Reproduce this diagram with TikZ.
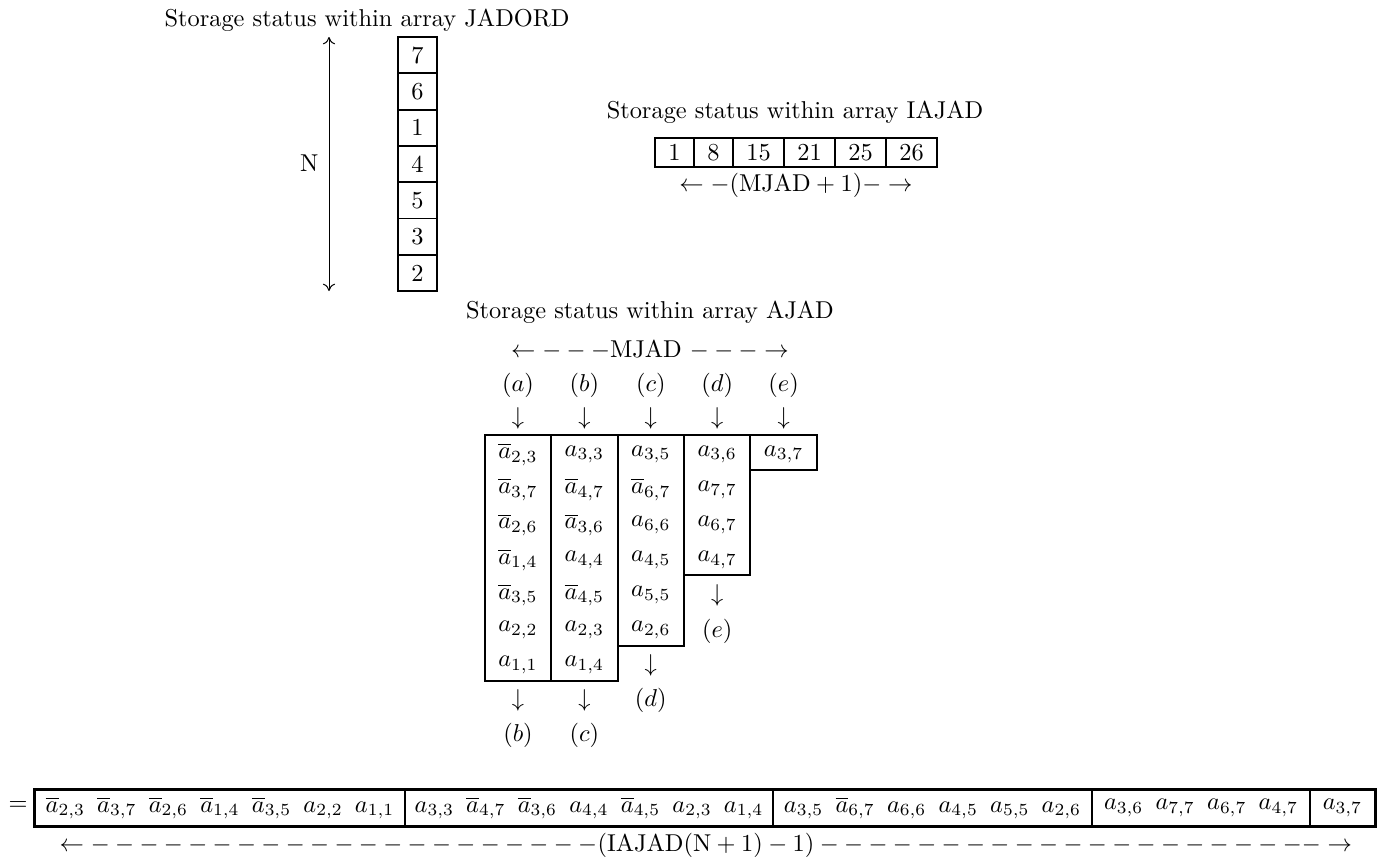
\documentclass[tikz,border=0pt]{standalone}
\usetikzlibrary{arrows.meta}
\begin{document}
\begin{tikzpicture}[x=0.41pt,y=-0.41pt,
  lbl/.style={inner sep=0pt, anchor=center},
  jbox/.style={draw, line width=0.8pt, minimum width=39*0.41pt, minimum height=36.3*0.41pt, inner sep=0pt},
  ibox/.style={draw, line width=0.8pt, minimum height=29*0.41pt, inner sep=0pt},
  colbox/.style={draw, line width=0.8pt, minimum width=66.4*0.41pt, inner sep=0pt},
  gbox/.style={draw, line width=0.55pt, minimum height=36*0.41pt, inner sep=0pt},
  dimarrow/.style={line width=0.4pt, {To[length=3pt,width=5pt]}-{To[length=3pt,width=5pt]}}
]
\useasboundingbox (0,0) rectangle (1388,857);

% ---------- JADORD ----------
\node[lbl] (tJ) at (367,20) {Storage status within array JADORD};
\foreach \v [count=\k] in {7,6,1,4,5,3,2}{
  \node[jbox] (j\k) at (417.5,{37+36.3*(\k-0.5)}) {\v};
}
\coordinate (Ntop) at (329,37);
\coordinate (Nbot) at (329,291);
\draw[dimarrow] (Ntop) -- (Nbot);
\node[lbl,anchor=east] (Nlab) at (319,163) {N};

% ---------- IAJAD ----------
\node[lbl] (tI) at (795,112) {Storage status within array IAJAD};
\node[ibox,minimum width=39*0.41pt] (i1) at (674.5,152.5) {1};
\node[ibox,minimum width=39*0.41pt] (i2) at (713.5,152.5) {8};
\node[ibox,minimum width=51*0.41pt] (i3) at (758.5,152.5) {15};
\node[ibox,minimum width=51*0.41pt] (i4) at (809.5,152.5) {21};
\node[ibox,minimum width=51*0.41pt] (i5) at (860.5,152.5) {25};
\node[ibox,minimum width=51*0.41pt] (i6) at (911.5,152.5) {26};
\node[lbl] (iL) at (796,185) {$\leftarrow-(\mathrm{MJAD}+1)-\rightarrow$};

% ---------- AJAD ----------
\node[lbl] (tA) at (650,312) {Storage status within array AJAD};
\node[lbl] (mA) at (650,350) {$\leftarrow---$MJAD $---\rightarrow$};

% columns
\node[colbox,minimum height=7*35.1*0.41pt] (ca) at (518.0,{435+7*35.1/2}) {};
\node[colbox,minimum height=7*35.1*0.41pt] (cb) at (584.4,{435+7*35.1/2}) {};
\node[colbox,minimum height=6*35.1*0.41pt] (cc) at (650.8,{435+6*35.1/2}) {};
\node[colbox,minimum height=4*35.1*0.41pt] (cd) at (717.2,{435+4*35.1/2}) {};
\node[colbox,minimum height=1*35.1*0.41pt] (ce) at (783.6,{435+1*35.1/2}) {};

% labels above
\foreach \x/\t/\n in {518.0/a/a,584.4/b/b,650.8/c/c,717.2/d/d,783.6/e/e}{
  \node[lbl] (top\n) at (\x,385) {$(\t)$};
  \node[lbl] (dn\n) at (\x,418) {$\downarrow$};
}

% cells
\foreach \e [count=\k] in {\overline{a}_{2,3},\overline{a}_{3,7},\overline{a}_{2,6},\overline{a}_{1,4},\overline{a}_{3,5},a_{2,2},a_{1,1}}{
  \node[lbl] (a\k) at (518.0,{435+35.1*(\k-0.5)+2}) {$\e$};
}
\foreach \e [count=\k] in {a_{3,3},\overline{a}_{4,7},\overline{a}_{3,6},a_{4,4},\overline{a}_{4,5},a_{2,3},a_{1,4}}{
  \node[lbl] (b\k) at (584.4,{435+35.1*(\k-0.5)+2}) {$\e$};
}
\foreach \e [count=\k] in {a_{3,5},\overline{a}_{6,7},a_{6,6},a_{4,5},a_{5,5},a_{2,6}}{
  \node[lbl] (c\k) at (650.8,{435+35.1*(\k-0.5)+2}) {$\e$};
}
\foreach \e [count=\k] in {a_{3,6},a_{7,7},a_{6,7},a_{4,7}}{
  \node[lbl] (d\k) at (717.2,{435+35.1*(\k-0.5)+2}) {$\e$};
}
\node[lbl] (e1) at (783.6,{435+35.1*0.5+2}) {$a_{3,7}$};

% labels below
\node[lbl] (bda) at (518.0,700) {$\downarrow$};
\node[lbl] (bla) at (518.0,735) {$(b)$};
\node[lbl] (bdb) at (584.4,700) {$\downarrow$};
\node[lbl] (blb) at (584.4,735) {$(c)$};
\node[lbl] (bdc) at (650.8,665) {$\downarrow$};
\node[lbl] (blc) at (650.8,700) {$(d)$};
\node[lbl] (bdd) at (717.2,595) {$\downarrow$};
\node[lbl] (bld) at (717.2,631) {$(e)$};

% ---------- bottom row ----------
\node[lbl] (eq) at (18,806) {$=$};
\node[gbox,minimum width=370*0.41pt] (g1) at (220,808) {$\overline{a}_{2,3}\enskip\overline{a}_{3,7}\enskip\overline{a}_{2,6}\enskip\overline{a}_{1,4}\enskip\overline{a}_{3,5}\enskip a_{2,2}\enskip a_{1,1}$};
\node[gbox,minimum width=368*0.41pt] (g2) at (589,808) {$a_{3,3}\enskip\overline{a}_{4,7}\enskip\overline{a}_{3,6}\enskip a_{4,4}\enskip\overline{a}_{4,5}\enskip a_{2,3}\enskip a_{1,4}$};
\node[gbox,minimum width=319*0.41pt] (g3) at (932.5,808) {$a_{3,5}\enskip\overline{a}_{6,7}\enskip a_{6,6}\enskip a_{4,5}\enskip a_{5,5}\enskip a_{2,6}$};
\node[gbox,minimum width=218*0.41pt] (g4) at (1201,808) {$a_{3,6}\enskip a_{7,7}\enskip a_{6,7}\enskip a_{4,7}$};
\node[gbox,minimum width=65*0.41pt] (g5) at (1342.5,808) {$a_{3,7}$};
\draw[line width=0.8pt] (g1.north west) rectangle (g5.south east);
\node[lbl] (bL) at (706,845) {$\leftarrow---------------------(\mathrm{IAJAD}(\mathrm{N}+1)-1)---------------------\rightarrow$};
\end{tikzpicture}
\end{document}
